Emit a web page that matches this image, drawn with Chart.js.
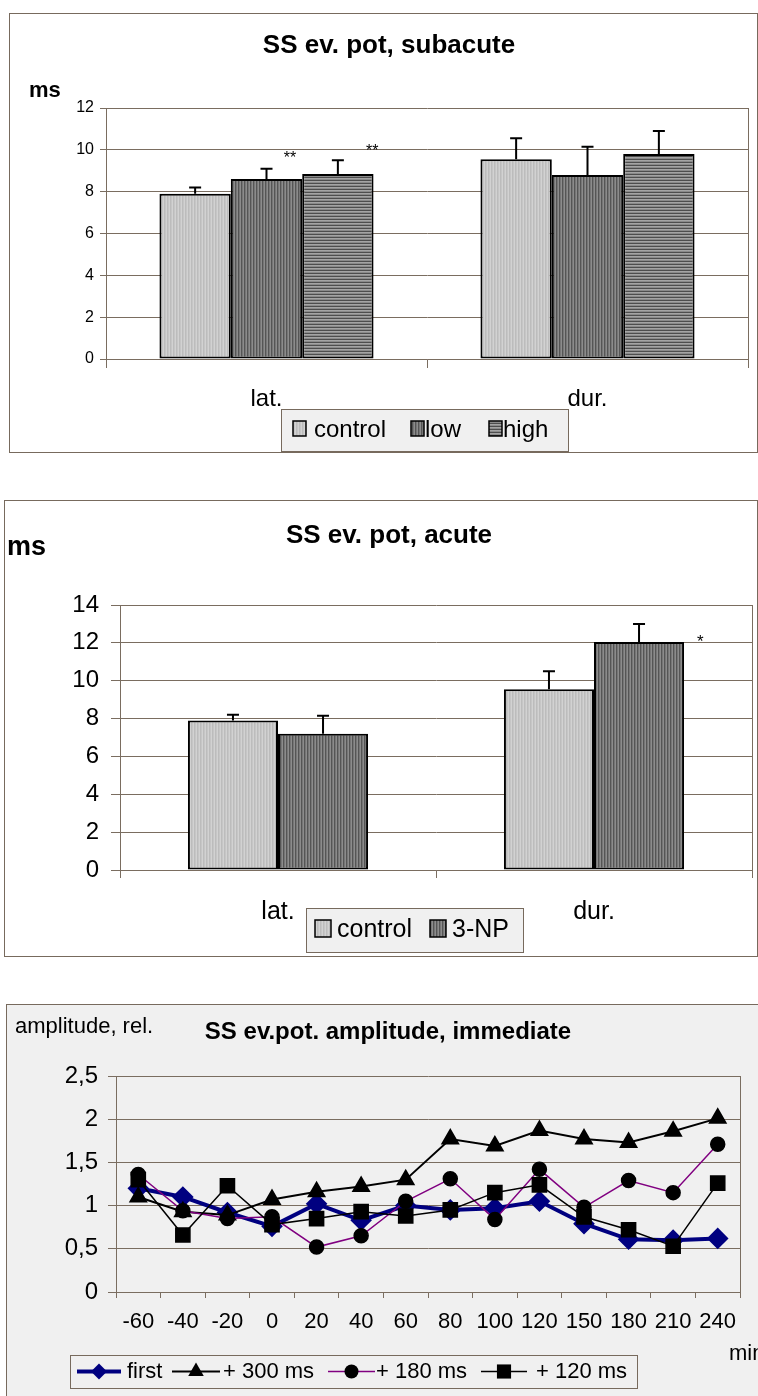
<!DOCTYPE html>
<html>
<head>
<meta charset="utf-8">
<script src="https://cdn.jsdelivr.net/npm/chart.js@4.4.0/dist/chart.umd.min.js"></script>
<style>
  html, body { margin: 0; padding: 0; background: #fff; }
  body { width: 758px; height: 1396px; position: relative; overflow: hidden; }
  canvas { position: absolute; left: 0; }
</style>
</head>
<body>
<canvas id="c1" width="758" height="470" style="top:0px;width:758px;height:470px"></canvas>
<canvas id="c2" width="758" height="520" style="top:470px;width:758px;height:520px"></canvas>
<canvas id="c3" width="758" height="406" style="top:990px;width:758px;height:406px"></canvas>
<script>
// ---- data ----
const barCategories = ['lat.', 'dur.'];

// subacute
const subControl = [7.9, 9.55];
const subControlErr = [0.3, 1.0];
const subLow = [8.6, 8.8];
const subLowErr = [0.5, 1.35];
const subHigh = [8.85, 9.8];
const subHighErr = [0.65, 1.1];

// acute
const acuControl = [7.9, 9.55];
const acuControlErr = [0.3, 0.95];
const acu3NP = [7.2, 12.05];
const acu3NPErr = [0.95, 0.95];

// immediate amplitude
const minutes = ['-60', '-40', '-20', '0', '20', '40', '60', '80', '100', '120', '150', '180', '210', '240'];
const ampFirst = [1.2, 1.1, 0.92, 0.76, 1.02, 0.83, 1.0, 0.95, 0.97, 1.05, 0.79, 0.61, 0.6, 0.62];
const amp300 = [1.1, 0.93, 0.89, 1.07, 1.16, 1.22, 1.3, 1.77, 1.69, 1.87, 1.77, 1.73, 1.86, 2.01];
const amp180 = [1.36, 0.94, 0.85, 0.87, 0.52, 0.65, 1.05, 1.31, 0.84, 1.42, 0.98, 1.29, 1.15, 1.71];
const amp120 = [1.3, 0.66, 1.23, 0.78, 0.85, 0.93, 0.88, 0.95, 1.15, 1.24, 0.87, 0.72, 0.53, 1.26];

// significance marks: dataset, category, text, value of baseline, x shift as part of bar width
const subStars = [
  { ds: 1, i: 0, text: '**', value: 9.37, dx: 0.33 },
  { ds: 2, i: 0, text: '**', value: 9.7, dx: 0.48 }
];
const acuStars = [
  { ds: 1, i: 1, text: '*', value: 11.78, dx: 0.68 }
];

// ---- look ----
const FONT = 'Arial, "Liberation Sans", sans-serif';
const GRID = '#7a6d60';
const FRAME = '#776a5d';
Chart.defaults.font.family = FONT;
Chart.defaults.color = '#000';

function stripes(ctx, colors, vertical) {
  const tile = document.createElement('canvas');
  tile.width = vertical ? colors.length : 4;
  tile.height = vertical ? 4 : colors.length;
  const g = tile.getContext('2d');
  colors.forEach((col, i) => {
    g.fillStyle = col;
    if (vertical) g.fillRect(i, 0, 1, 4); else g.fillRect(0, i, 4, 1);
  });
  return ctx.createPattern(tile, 'repeat');
}

function txt(ctx, s, x, y, size, bold, align) {
  ctx.save();
  ctx.font = (bold ? 'bold ' : '') + size + 'px ' + FONT;
  ctx.fillStyle = '#000';
  ctx.textAlign = align || 'left';
  ctx.textBaseline = 'alphabetic';
  ctx.fillText(s, x, y);
  ctx.restore();
}

function marker(ctx, style, x, y, r, color) {
  ctx.save();
  ctx.fillStyle = color;
  ctx.beginPath();
  if (style === 'rectRot') {
    ctx.moveTo(x, y - r); ctx.lineTo(x + r, y); ctx.lineTo(x, y + r); ctx.lineTo(x - r, y);
  } else if (style === 'triangle') {
    ctx.moveTo(x, y - r); ctx.lineTo(x + r * 0.866, y + r * 0.5); ctx.lineTo(x - r * 0.866, y + r * 0.5);
  } else if (style === 'circle') {
    ctx.arc(x, y, r, 0, Math.PI * 2);
  } else {
    const s = r * Math.SQRT1_2;
    ctx.rect(x - s, y - s, 2 * s, 2 * s);
  }
  ctx.closePath();
  ctx.fill();
  ctx.restore();
}

// frame, titles, legend, right border of the plot
function decor(cfg) {
  return {
    id: 'decor',
    beforeDraw(chart) {
      const ctx = chart.ctx;
      ctx.save();
      ctx.fillStyle = '#fff';
      ctx.fillRect(0, 0, chart.width, chart.height);
      const f = cfg.frame;
      ctx.fillStyle = cfg.fill || '#fff';
      ctx.fillRect(f[0], f[1], f[2] - f[0], f[3] - f[1]);
      ctx.strokeStyle = FRAME;
      ctx.lineWidth = 1;
      ctx.strokeRect(f[0] + 0.5, f[1] + 0.5, f[2] - f[0], f[3] - f[1]);
      ctx.restore();
    },
    beforeDatasetsDraw(chart) {
      const ctx = chart.ctx, a = chart.chartArea;
      ctx.save();
      ctx.strokeStyle = GRID;
      ctx.lineWidth = 1;
      ctx.beginPath();
      ctx.moveTo(Math.round(a.right) + 0.5, a.top);
      ctx.lineTo(Math.round(a.right) + 0.5, a.bottom);
      ctx.stroke();
      ctx.restore();
    },
    afterDraw(chart) {
      const ctx = chart.ctx;
      cfg.texts.forEach(t => txt(ctx, t.s, t.x, t.y, t.size, t.bold, t.align));
      const lg = cfg.legend;
      const b = lg.box;
      ctx.save();
      ctx.fillStyle = '#f0f0f0';
      ctx.fillRect(b[0], b[1], b[2] - b[0], b[3] - b[1]);
      ctx.strokeStyle = FRAME;
      ctx.lineWidth = 1;
      ctx.strokeRect(b[0] + 0.5, b[1] + 0.5, b[2] - b[0], b[3] - b[1]);
      ctx.restore();
      chart.data.datasets.forEach((ds, i) => {
        const it = lg.items[i];
        ctx.save();
        if (it.sq) {
          ctx.fillStyle = ds.backgroundColor;
          ctx.fillRect(it.sq[0], it.sq[1], it.sq[2], it.sq[3]);
          ctx.strokeStyle = '#000';
          ctx.lineWidth = 1.5;
          ctx.strokeRect(it.sq[0], it.sq[1], it.sq[2], it.sq[3]);
        } else {
          ctx.strokeStyle = ds.borderColor;
          ctx.lineWidth = ds.borderWidth;
          ctx.beginPath();
          ctx.moveTo(it.line[0], lg.lineY);
          ctx.lineTo(it.line[1], lg.lineY);
          ctx.stroke();
          marker(ctx, ds.pointStyle, (it.line[0] + it.line[1]) / 2, lg.lineY, ds.pointRadius, ds.pointBackgroundColor);
        }
        ctx.restore();
        txt(ctx, ds.label, it.tx, lg.baseline, lg.size, false);
      });
    }
  };
}

const errorBars = {
  id: 'errorBars',
  afterDatasetsDraw(chart) {
    const ctx = chart.ctx, y = chart.scales.y;
    chart.data.datasets.forEach((ds, di) => {
      if (!ds.errors) return;
      chart.getDatasetMeta(di).data.forEach((bar, i) => {
        const top = y.getPixelForValue(ds.data[i] + ds.errors[i]);
        ctx.save();
        ctx.strokeStyle = '#000';
        ctx.lineWidth = 2;
        ctx.beginPath();
        ctx.moveTo(bar.x, bar.y);
        ctx.lineTo(bar.x, top);
        ctx.moveTo(bar.x - 6, top);
        ctx.lineTo(bar.x + 6, top);
        ctx.stroke();
        ctx.restore();
      });
    });
  }
};

function starsPlugin(stars, size) {
  return {
    id: 'stars',
    afterDatasetsDraw(chart) {
      stars.forEach(s => {
        const bar = chart.getDatasetMeta(s.ds).data[s.i];
        const x = bar.x + bar.width * s.dx;
        const y = chart.scales.y.getPixelForValue(s.value);
        txt(chart.ctx, s.text, x, y, size, false, 'center');
      });
    }
  };
}

function barScales(cfg) {
  return {
    x: {
      grid: { drawOnChartArea: false, drawTicks: true, tickLength: cfg.xTick, color: GRID, offset: true },
      border: { color: GRID, width: 1 },
      ticks: { font: { size: cfg.xFont }, color: '#000', padding: cfg.xPad, maxRotation: 0 },
      afterFit: s => { s.height = 60; }
    },
    y: {
      min: 0, max: cfg.max,
      ticks: { stepSize: 2, font: { size: cfg.yFont }, color: '#000', padding: cfg.yPad },
      grid: { color: GRID, tickLength: cfg.yTick },
      border: { color: GRID, width: 1 },
      afterFit: s => { s.width = 60; }
    }
  };
}

// ---- chart 1: subacute ----
const ctx1 = document.getElementById('c1').getContext('2d');
const pControl = stripes(ctx1, ['#c6c6c6', '#d2d2d2', '#bcbcbc'], true);
const pLow = stripes(ctx1, ['#8c8c8c', '#555555', '#767676'], true);
const pHigh = stripes(ctx1, ['#4e4e4e', '#a4a4a4', '#8a8a8a'], false);

new Chart(ctx1, {
  type: 'bar',
  data: {
    labels: barCategories,
    datasets: [
      { label: 'control', data: subControl, errors: subControlErr, backgroundColor: pControl },
      { label: 'low', data: subLow, errors: subLowErr, backgroundColor: pLow },
      { label: 'high', data: subHigh, errors: subHighErr, backgroundColor: pHigh }
    ]
  },
  options: {
    responsive: false, animation: false, events: [],
    layout: { padding: { left: 46, right: 10, top: 108, bottom: 51 } },
    plugins: { legend: { display: false }, tooltip: { enabled: false } },
    datasets: { bar: { categoryPercentage: 0.667, barPercentage: 1, borderColor: '#000', borderWidth: 2, borderSkipped: false } },
    scales: barScales({ max: 12, xTick: 9, xFont: 24, xPad: 17, yFont: 16, yPad: 6, yTick: 6 })
  },
  plugins: [
    decor({
      frame: [9, 13, 757, 452],
      texts: [
        { s: 'SS ev. pot, subacute', x: 389, y: 53, size: 26, bold: true, align: 'center' },
        { s: 'ms', x: 29, y: 97, size: 22, bold: true }
      ],
      legend: {
        box: [281, 409, 568, 451], baseline: 437, size: 24,
        items: [
          { sq: [293, 421, 13, 15], tx: 314 },
          { sq: [411, 421, 13, 15], tx: 425 },
          { sq: [489, 421, 13, 15], tx: 503 }
        ]
      }
    }),
    errorBars,
    starsPlugin(subStars, 16)
  ]
});

// ---- chart 2: acute ----
const ctx2 = document.getElementById('c2').getContext('2d');
const pControl2 = stripes(ctx2, ['#c6c6c6', '#d2d2d2', '#bcbcbc'], true);
const p3NP = stripes(ctx2, ['#8c8c8c', '#555555', '#767676'], true);

new Chart(ctx2, {
  type: 'bar',
  data: {
    labels: barCategories,
    datasets: [
      { label: 'control', data: acuControl, errors: acuControlErr, backgroundColor: pControl2 },
      { label: '3-NP', data: acu3NP, errors: acu3NPErr, backgroundColor: p3NP }
    ]
  },
  options: {
    responsive: false, animation: false, events: [],
    layout: { padding: { left: 60, right: 6, top: 135, bottom: 60 } },
    plugins: { legend: { display: false }, tooltip: { enabled: false } },
    datasets: { bar: { categoryPercentage: 0.57, barPercentage: 1, borderColor: '#000', borderWidth: 2, borderSkipped: false } },
    scales: barScales({ max: 14, xTick: 8, xFont: 25, xPad: 19, yFont: 24, yPad: 12, yTick: 9 })
  },
  plugins: [
    decor({
      frame: [4, 30, 757, 486],
      texts: [
        { s: 'SS ev. pot, acute', x: 389, y: 73, size: 26, bold: true, align: 'center' },
        { s: 'ms', x: 7, y: 85, size: 27, bold: true }
      ],
      legend: {
        box: [306, 438, 523, 482], baseline: 467, size: 25,
        items: [
          { sq: [315, 450, 16, 17], tx: 337 },
          { sq: [430, 450, 16, 17], tx: 452 }
        ]
      }
    }),
    errorBars,
    starsPlugin(acuStars, 17)
  ]
});

// ---- chart 3: immediate amplitude ----
const ctx3 = document.getElementById('c3').getContext('2d');
const comma = v => String(v).replace('.', ',');

new Chart(ctx3, {
  type: 'line',
  data: {
    labels: minutes,
    datasets: [
      { label: 'first', data: ampFirst, borderColor: '#000080', borderWidth: 4, pointStyle: 'rectRot', pointRadius: 8,
        pointBackgroundColor: '#000080', pointBorderColor: '#000080', order: 3 },
      { label: '+ 300 ms', data: amp300, borderColor: '#000', borderWidth: 2, pointStyle: 'triangle', pointRadius: 9,
        pointBackgroundColor: '#000', pointBorderColor: '#000', order: 2 },
      { label: '+ 180 ms', data: amp180, borderColor: '#800080', borderWidth: 1.5, pointStyle: 'circle', pointRadius: 7,
        pointBackgroundColor: '#000', pointBorderColor: '#000', order: 1 },
      { label: '+ 120 ms', data: amp120, borderColor: '#000', borderWidth: 1.5, pointStyle: 'rect', pointRadius: 10,
        pointBackgroundColor: '#000', pointBorderColor: '#000', order: 0 }
    ]
  },
  options: {
    responsive: false, animation: false, events: [],
    layout: { padding: { left: 56, right: 18, top: 86, bottom: 54 } },
    plugins: { legend: { display: false }, tooltip: { enabled: false } },
    elements: { line: { tension: 0 }, point: { borderWidth: 1 } },
    scales: {
      x: {
        offset: true,
        grid: { drawOnChartArea: false, drawTicks: true, tickLength: 6, color: GRID, offset: true },
        border: { color: GRID, width: 1 },
        ticks: { font: { size: 22 }, color: '#000', padding: 11, maxRotation: 0, autoSkip: false },
        afterFit: s => { s.height = 50; }
      },
      y: {
        min: 0, max: 2.5,
        ticks: { stepSize: 0.5, font: { size: 24 }, color: '#000', padding: 10, callback: comma },
        grid: { color: GRID, tickLength: 8 },
        border: { color: GRID, width: 1 },
        afterFit: s => { s.width = 60; }
      }
    }
  },
  plugins: [
    decor({
      frame: [6, 14, 900, 600],
      fill: '#f0f0f0',
      texts: [
        { s: 'amplitude, rel.', x: 15, y: 43, size: 22 },
        { s: 'SS ev.pot. amplitude, immediate', x: 388, y: 49, size: 24, bold: true, align: 'center' },
        { s: 'min', x: 729, y: 370, size: 22 }
      ],
      legend: {
        box: [70, 365, 637, 398], baseline: 388, size: 22, lineY: 381.5,
        items: [
          { line: [77, 121], tx: 127 },
          { line: [172, 220], tx: 223 },
          { line: [328, 375], tx: 376 },
          { line: [481, 527], tx: 536 }
        ]
      }
    })
  ]
});
</script>
</body>
</html>
